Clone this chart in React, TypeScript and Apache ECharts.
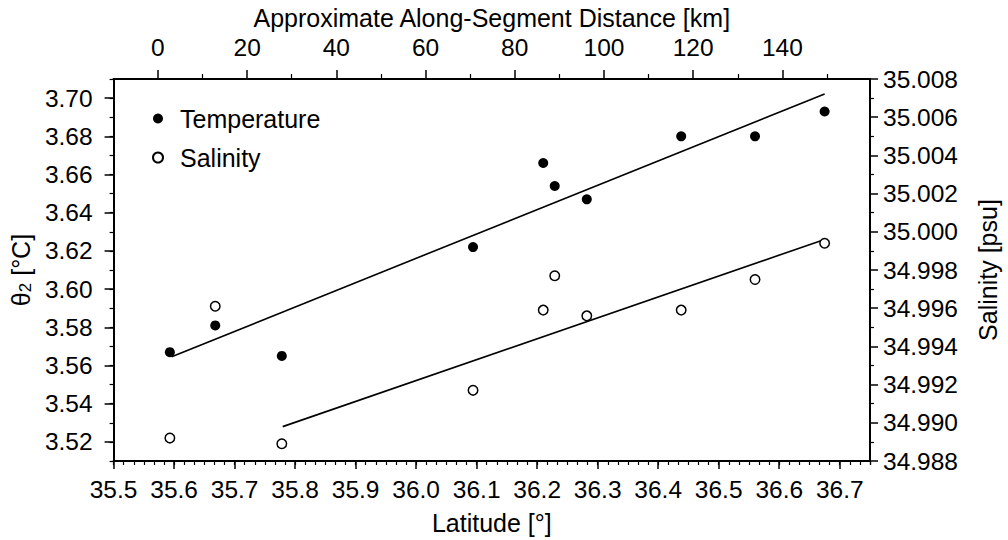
import React, { useEffect, useRef } from "react";
import * as echarts from "echarts";

// ---- data ----
const latitude = [35.593, 35.668, 35.778, 36.094, 36.21, 36.229, 36.282, 36.438, 36.56, 36.675];
const temperature = [3.567, 3.581, 3.565, 3.622, 3.666, 3.654, 3.647, 3.68, 3.68, 3.693];
const salinity = [34.9892, 34.9961, 34.9889, 34.9917, 34.9959, 34.9977, 34.9956, 34.9959, 34.9975, 34.9994];
const tempFitLat = [35.596, 36.675];
const tempFitVal = [3.5646, 3.7022];
const salFitLat = [35.7795, 36.675];
const salFitVal = [34.9898, 34.9996];

const latTicks = [35.5, 35.6, 35.7, 35.8, 35.9, 36.0, 36.1, 36.2, 36.3, 36.4, 36.5, 36.6, 36.7];
const kmTicks = [0, 20, 40, 60, 80, 100, 120, 140];
const kmMinorTicks = [10, 30, 50, 70, 90, 110, 130, 150];
const tempTicks = [3.52, 3.54, 3.56, 3.58, 3.6, 3.62, 3.64, 3.66, 3.68, 3.7];

const LAT_MIN = 35.5;
const LAT_MAX = 36.75;
const KM_MIN = -9.94;
const KM_MAX = 159.65;
const T_MIN = 3.51;
const T_MAX = 3.71;
const S_MIN = 34.988;
const S_MAX = 35.008;

export default function App() {
  const ref = useRef<HTMLDivElement>(null);
  useEffect(() => {
    const chart = echarts.init(ref.current as HTMLDivElement, null, { renderer: "svg" });
    const font = "'Liberation Sans', Arial, Helvetica, sans-serif";
    const black = "#000";
    const lab = { color: black, fontFamily: font, fontSize: 24.5 };
    const title = { color: black, fontFamily: font, fontSize: 25 };
    const frame = { show: true, onZero: false, lineStyle: { color: black, width: 2 } };
    const hiddenLine = { show: false, onZero: false };
    const noSplit = { show: false };

    const option: any = {
      animation: false,
      backgroundColor: "#fff",
      textStyle: { fontFamily: font, color: black },
      grid: { left: 111, right: 129, top: 79, bottom: 77 },
      legend: {
        data: ["Temperature", "Salinity"],
        orient: "vertical",
        left: 152,
        top: 106,
        padding: 0,
        itemGap: 14,
        itemWidth: 10,
        itemHeight: 10,
        icon: "circle",
        textStyle: { ...title, padding: [0, 0, 0, 12] },
      },
      xAxis: [
        {
          type: "value",
          position: "bottom",
          min: LAT_MIN,
          max: LAT_MAX,
          name: "Latitude [°]",
          nameLocation: "middle",
          nameGap: 49,
          nameTextStyle: title,
          axisLine: frame,
          axisTick: { show: true, length: 8, customValues: latTicks, lineStyle: { color: black, width: 1.5 } },
          axisLabel: { ...lab, margin: 16, customValues: latTicks, formatter: (v: number) => v.toFixed(1) },
          splitLine: noSplit,
        },
        {
          type: "value",
          position: "bottom",
          min: LAT_MIN,
          max: LAT_MAX,
          interval: 1 / 60,
          axisLine: hiddenLine,
          axisTick: { show: true, length: 4, lineStyle: { color: black, width: 1.2 } },
          axisLabel: { show: false },
          splitLine: noSplit,
        },
        {
          type: "value",
          position: "top",
          min: KM_MIN,
          max: KM_MAX,
          name: "Approximate Along-Segment Distance [km]",
          nameLocation: "middle",
          nameGap: 48,
          nameTextStyle: title,
          axisLine: frame,
          axisTick: { show: true, length: 9, customValues: kmTicks, lineStyle: { color: black, width: 1.5 } },
          axisLabel: { ...lab, margin: 19, customValues: kmTicks, formatter: (v: number) => String(Math.round(v)) },
          splitLine: noSplit,
        },
        {
          type: "value",
          position: "top",
          min: KM_MIN,
          max: KM_MAX,
          axisLine: hiddenLine,
          axisTick: { show: true, length: 5, customValues: kmMinorTicks, lineStyle: { color: black, width: 1.2 } },
          axisLabel: { show: false, customValues: kmMinorTicks },
          splitLine: noSplit,
        },
      ],
      yAxis: [
        {
          type: "value",
          position: "left",
          min: T_MIN,
          max: T_MAX,
          name: "{t|θ}{s|2}{t| [°C]}",
          nameLocation: "middle",
          nameRotate: 90,
          nameGap: 74,
          nameTextStyle: {
            ...title,
            rich: {
              t: { fontSize: 25, fontFamily: font, color: black },
              s: { fontSize: 17, fontFamily: font, color: black, padding: [10, 0, 0, 0] },
            },
          },
          axisLine: frame,
          axisTick: { show: true, length: 9, customValues: tempTicks, lineStyle: { color: black, width: 1.5 } },
          axisLabel: { ...lab, margin: 21, customValues: tempTicks, formatter: (v: number) => v.toFixed(2) },
          splitLine: noSplit,
        },
        {
          type: "value",
          position: "left",
          min: T_MIN,
          max: T_MAX,
          interval: 0.01,
          axisLine: hiddenLine,
          axisTick: { show: true, length: 4, lineStyle: { color: black, width: 1.2 } },
          axisLabel: { show: false },
          splitLine: noSplit,
        },
        {
          type: "value",
          position: "right",
          min: S_MIN,
          max: S_MAX,
          interval: 0.002,
          name: "Salinity [psu]",
          nameLocation: "middle",
          nameRotate: 90,
          nameGap: 105,
          nameTextStyle: title,
          axisLine: frame,
          axisTick: { show: true, length: 8, lineStyle: { color: black, width: 1.5 } },
          minorTick: { show: true, splitNumber: 2, length: 4, lineStyle: { color: black, width: 1.2 } },
          axisLabel: { ...lab, margin: 13, formatter: (v: number) => v.toFixed(3) },
          splitLine: noSplit,
          minorSplitLine: noSplit,
        },
      ],
      series: [
        {
          name: "Temperature fit",
          type: "line",
          xAxisIndex: 0,
          yAxisIndex: 0,
          data: tempFitLat.map((x, i) => [x, tempFitVal[i]]),
          showSymbol: false,
          lineStyle: { color: black, width: 1.6 },
          z: 2,
        },
        {
          name: "Salinity fit",
          type: "line",
          xAxisIndex: 0,
          yAxisIndex: 2,
          data: salFitLat.map((x, i) => [x, salFitVal[i]]),
          showSymbol: false,
          lineStyle: { color: black, width: 1.6 },
          z: 2,
        },
        {
          name: "Temperature",
          type: "scatter",
          xAxisIndex: 0,
          yAxisIndex: 0,
          data: latitude.map((x, i) => [x, temperature[i]]),
          symbol: "circle",
          symbolSize: 10,
          itemStyle: { color: black, opacity: 1 },
          z: 5,
        },
        {
          name: "Salinity",
          type: "scatter",
          xAxisIndex: 0,
          yAxisIndex: 2,
          data: latitude.map((x, i) => [x, salinity[i]]),
          symbol: "circle",
          symbolSize: 9.5,
          itemStyle: { color: "#fff", borderColor: black, borderWidth: 1.5, opacity: 1 },
          z: 5,
        },
      ],
    };
    chart.setOption(option);
    return () => chart.dispose();
  }, []);
  return (
    <div
      ref={ref}
      style={{ position: "absolute", left: 0, top: 0, width: 1008, height: 540, background: "#fff" }}
    />
  );
}
